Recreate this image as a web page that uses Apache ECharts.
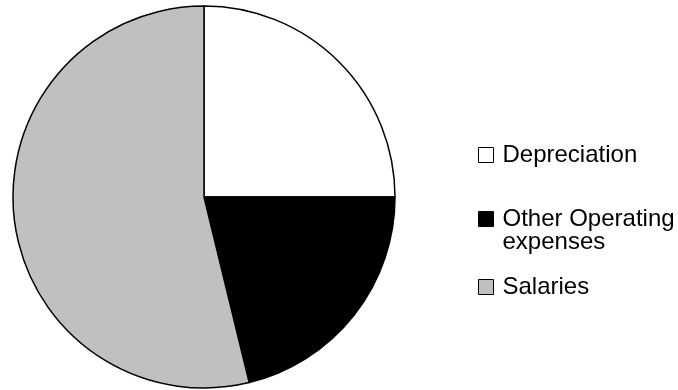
<!DOCTYPE html>
<html>
<head>
<meta charset="utf-8">
<script src="https://cdn.jsdelivr.net/npm/echarts@6/dist/echarts.min.js"></script>
<style>
  html, body { margin: 0; padding: 0; background: #fff; }
  #main { width: 678px; height: 390px; }
</style>
</head>
<body>
<div id="main"></div>
<script>
// 数据
var categories = ['Depreciation', 'Other Operating expenses', 'Salaries'];
var legendLabels = ['Depreciation', ' \nOther Operating\nexpenses', 'Salaries'];
var values = [25, 21.2, 53.8];
var colors = ['#ffffff', '#000000', '#c0c0c0'];

var chart = echarts.init(document.getElementById('main'));

var pieData = categories.map(function (name, i) {
  return { name: name, value: values[i], itemStyle: { color: colors[i] } };
});

// 每个图例单独摆放，第二项第一行对齐图标
function makeLegend(i, top) {
  return {
    data: [categories[i]],
    orient: 'vertical',
    left: 478,
    top: top,
    padding: 0,
    icon: 'rect',
    itemWidth: 15,
    itemHeight: 15,
    selectedMode: false,
    formatter: function () { return legendLabels[i]; },
    itemStyle: { borderColor: '#000', borderWidth: 1 },
    textStyle: {
      color: '#000',
      fontFamily: 'Liberation Sans, Arial, sans-serif',
      fontSize: 24,
      lineHeight: 23,
      padding: [0, 0, 0, 4]
    }
  };
}

var option = {
  backgroundColor: '#fff',
  animation: false,
  legend: [
    makeLegend(0, 143),
    makeLegend(1, 184),
    makeLegend(2, 275)
  ],
  series: [{
    type: 'pie',
    center: [204, 197],
    radius: 191,
    startAngle: 90,
    clockwise: true,
    label: { show: false },
    labelLine: { show: false },
    emphasis: { disabled: true },
    itemStyle: { borderColor: '#000', borderWidth: 1.5 },
    data: pieData
  }]
};

chart.setOption(option);
</script>
</body>
</html>
